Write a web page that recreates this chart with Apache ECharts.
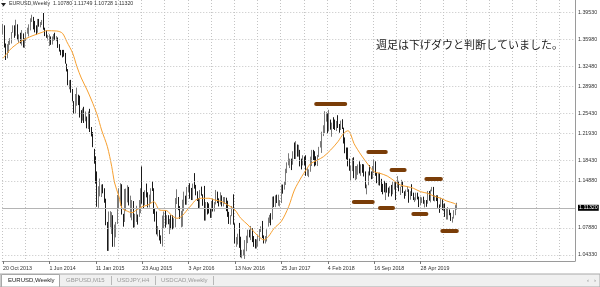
<!DOCTYPE html>
<html><head><meta charset="utf-8">
<script src="https://cdn.jsdelivr.net/npm/echarts@6/dist/echarts.min.js"></script>
<style>html,body{margin:0;padding:0;background:#fff}#c{width:600px;height:287px}</style>
</head><body><div id="c"></div>
<script>
// Weekly EURUSD bars [open, high, low, close], week of 20 Oct 2013 .. 20 Oct 2019
const ohlc2013 = [
[1.3680,1.3832,1.3672,1.3805],[1.3805,1.3810,1.3480,1.3485],[1.3485,1.3540,1.3295,1.3365],[1.3365,1.3530,1.3320,1.3495],
[1.3495,1.3578,1.3400,1.3555],[1.3555,1.3620,1.3520,1.3590],[1.3590,1.3710,1.3540,1.3705],[1.3705,1.3810,1.3700,1.3740],
[1.3740,1.3810,1.3625,1.3675],[1.3675,1.3893,1.3655,1.3815],[1.3815,1.3825,1.3590,1.3590]];
const ohlc2014 = [
[1.3590,1.3675,1.3550,1.3665],[1.3665,1.3700,1.3540,1.3540],[1.3540,1.3740,1.3510,1.3680],[1.3680,1.3690,1.3480,1.3485],
[1.3485,1.3620,1.3475,1.3605],[1.3605,1.3715,1.3575,1.3690],[1.3690,1.3775,1.3685,1.3740],[1.3740,1.3825,1.3645,1.3805],
[1.3805,1.3915,1.3735,1.3910],[1.3910,1.3967,1.3860,1.3915],[1.3915,1.3935,1.3750,1.3790],[1.3790,1.3875,1.3705,1.3750],
[1.3750,1.3810,1.3670,1.3705],[1.3705,1.3905,1.3700,1.3885],[1.3885,1.3905,1.3790,1.3815],[1.3815,1.3860,1.3780,1.3830],
[1.3830,1.3890,1.3815,1.3870],[1.3870,1.3993,1.3745,1.3755],[1.3755,1.3775,1.3650,1.3695],[1.3695,1.3735,1.3625,1.3630],
[1.3630,1.3670,1.3585,1.3635],[1.3635,1.3677,1.3503,1.3640],[1.3640,1.3645,1.3520,1.3545],[1.3545,1.3645,1.3525,1.3600],
[1.3600,1.3680,1.3580,1.3645],[1.3645,1.3700,1.3590,1.3595],[1.3595,1.3650,1.3575,1.3605],[1.3605,1.3630,1.3475,1.3525],
[1.3525,1.3530,1.3420,1.3430],[1.3430,1.3445,1.3365,1.3415],[1.3415,1.3445,1.3333,1.3410],[1.3410,1.3445,1.3345,1.3400],
[1.3400,1.3400,1.3240,1.3240],[1.3240,1.3240,1.3125,1.3130],[1.3130,1.3160,1.2920,1.2950],[1.2950,1.2995,1.2860,1.2965],
[1.2965,1.3000,1.2810,1.2830],[1.2830,1.2865,1.2680,1.2685],[1.2685,1.2685,1.2500,1.2515],[1.2515,1.2790,1.2500,1.2625],
[1.2625,1.2885,1.2615,1.2760],[1.2760,1.2780,1.2625,1.2670],[1.2670,1.2765,1.2440,1.2525],[1.2525,1.2550,1.2360,1.2450],
[1.2450,1.2575,1.2395,1.2525],[1.2525,1.2600,1.2360,1.2390],[1.2390,1.2530,1.2385,1.2450],[1.2450,1.2455,1.2280,1.2290],
[1.2290,1.2530,1.2270,1.2465],[1.2465,1.2570,1.2225,1.2230],[1.2230,1.2300,1.2160,1.2185],[1.2185,1.2225,1.2000,1.2000]];
const ohlc2015 = [
[1.1955,1.1975,1.1755,1.1840],[1.1840,1.1865,1.1460,1.1565],[1.1565,1.1640,1.1115,1.1205],[1.1205,1.1420,1.1100,1.1290],
[1.1290,1.1535,1.1270,1.1315],[1.1315,1.1445,1.1260,1.1390],[1.1390,1.1450,1.1315,1.1380],[1.1380,1.1390,1.1175,1.1195],
[1.1195,1.1235,1.0840,1.0845],[1.0845,1.0890,1.0460,1.0495],[1.0495,1.1045,1.0460,1.0820],[1.0820,1.1050,1.0810,1.0890],
[1.0890,1.1035,1.0710,1.0970],[1.0970,1.0990,1.0520,1.0600],[1.0600,1.0850,1.0520,1.0810],[1.0810,1.0890,1.0660,1.0875],
[1.0875,1.1290,1.0860,1.1200],[1.1200,1.1390,1.1080,1.1200],[1.1200,1.1465,1.1130,1.1445],[1.1445,1.1450,1.1000,1.1010],
[1.1010,1.1010,1.0820,1.0985],[1.0985,1.1380,1.0890,1.1110],[1.1110,1.1385,1.1050,1.1265],[1.1265,1.1435,1.1180,1.1350],
[1.1290,1.1410,1.1135,1.1165],[1.0960,1.1280,1.0955,1.1105],[1.1105,1.1215,1.0915,1.1160],[1.1160,1.1200,1.0805,1.0830],
[1.0830,1.1010,1.0810,1.0980],[1.0980,1.1130,1.0890,1.0985],[1.0985,1.1000,1.0850,1.0970],[1.0970,1.1215,1.0965,1.1105],
[1.1105,1.1390,1.1020,1.1385],[1.1385,1.1715,1.1160,1.1180],[1.1180,1.1335,1.1085,1.1150],[1.1150,1.1360,1.1140,1.1340],
[1.1340,1.1460,1.1255,1.1295],[1.1295,1.1330,1.1105,1.1195],[1.1195,1.1295,1.1105,1.1210],[1.1210,1.1390,1.1165,1.1355],
[1.1355,1.1495,1.1350,1.1350],[1.1350,1.1390,1.1010,1.1015],[1.1015,1.1095,1.0895,1.1005],[1.1005,1.1045,1.0705,1.0740],
[1.0740,1.0830,1.0675,1.0770],[1.0770,1.0770,1.0615,1.0645],[1.0645,1.0690,1.0565,1.0590],[1.0590,1.0985,1.0525,1.0885],
[1.0885,1.1045,1.0795,1.0990],[1.0990,1.1060,1.0805,1.0865],[1.0865,1.0990,1.0850,1.0965],[1.0965,1.0990,1.0855,1.0860]];
const ohlc2016 = [
[1.0860,1.0935,1.0710,1.0920],[1.0920,1.0990,1.0780,1.0915],[1.0915,1.0990,1.0780,1.0795],[1.0795,1.0945,1.0795,1.0830],
[1.0830,1.1245,1.0810,1.1155],[1.1155,1.1375,1.1155,1.1255],[1.1255,1.1260,1.1065,1.1130],[1.1090,1.1125,1.0935,1.0935],
[1.0935,1.1055,1.0810,1.1005],[1.1005,1.1220,1.0820,1.1150],[1.1150,1.1340,1.1050,1.1270],[1.1270,1.1280,1.1145,1.1165],
[1.1165,1.1410,1.1145,1.1390],[1.1390,1.1440,1.1335,1.1400],[1.1400,1.1465,1.1235,1.1285],[1.1285,1.1395,1.1215,1.1225],
[1.1225,1.1460,1.1215,1.1455],[1.1455,1.1615,1.1385,1.1405],[1.1405,1.1440,1.1285,1.1310],[1.1310,1.1345,1.1200,1.1220],
[1.1220,1.1240,1.1095,1.1115],[1.1115,1.1365,1.1100,1.1365],[1.1365,1.1415,1.1280,1.1290],[1.1290,1.1300,1.1130,1.1275],
[1.1275,1.1425,1.0910,1.1115],[1.1055,1.1185,1.0910,1.1135],[1.1135,1.1185,1.1000,1.1050],[1.1050,1.1165,1.1015,1.1040],
[1.1040,1.1085,1.0950,1.0975],[1.0975,1.1200,1.0950,1.1175],[1.1175,1.1235,1.1045,1.1085],[1.1085,1.1185,1.1045,1.1160],
[1.1160,1.1365,1.1150,1.1325],[1.1325,1.1340,1.1170,1.1200],[1.1200,1.1240,1.1120,1.1155],[1.1155,1.1330,1.1150,1.1235],
[1.1235,1.1285,1.1120,1.1155],[1.1155,1.1260,1.1120,1.1225],[1.1225,1.1260,1.1160,1.1240],[1.1240,1.1250,1.1050,1.1200],
[1.1200,1.1205,1.0965,1.0970],[1.0970,1.1040,1.0860,1.0880],[1.0880,1.0990,1.0850,1.0985],[1.0985,1.1125,1.0975,1.1125],
[1.1125,1.1300,1.0850,1.0855],[1.0855,1.0870,1.0570,1.0590],[1.0590,1.0665,1.0520,1.0590],[1.0590,1.0715,1.0555,1.0665],
[1.0665,1.0875,1.0505,1.0560],[1.0560,1.0670,1.0365,1.0450],[1.0450,1.0475,1.0350,1.0455],[1.0455,1.0480,1.0390,1.0520]];
const ohlc2017 = [
[1.0520,1.0620,1.0340,1.0530],[1.0530,1.0685,1.0455,1.0640],[1.0640,1.0775,1.0575,1.0700],[1.0700,1.0775,1.0660,1.0695],
[1.0695,1.0830,1.0620,1.0780],[1.0780,1.0800,1.0590,1.0640],[1.0640,1.0680,1.0520,1.0615],[1.0615,1.0635,1.0495,1.0560],
[1.0560,1.0630,1.0495,1.0620],[1.0620,1.0700,1.0525,1.0670],[1.0670,1.0785,1.0605,1.0740],[1.0740,1.0825,1.0740,1.0800],
[1.0800,1.0905,1.0650,1.0650],[1.0650,1.0690,1.0570,1.0590],[1.0590,1.0680,1.0570,1.0615],[1.0615,1.0780,1.0600,1.0725],
[1.0860,1.0955,1.0820,1.0895],[1.0895,1.0995,1.0875,1.0995],[1.0995,1.1020,1.0840,1.0930],[1.0930,1.1265,1.0925,1.1205],
[1.1205,1.1270,1.1110,1.1165],[1.1165,1.1285,1.1110,1.1280],[1.1280,1.1295,1.1170,1.1195],[1.1195,1.1295,1.1130,1.1195],
[1.1195,1.1215,1.1120,1.1195],[1.1195,1.1445,1.1170,1.1425],[1.1425,1.1445,1.1310,1.1400],[1.1400,1.1490,1.1370,1.1470],
[1.1470,1.1680,1.1440,1.1665],[1.1665,1.1775,1.1615,1.1750],[1.1750,1.1910,1.1730,1.1775],[1.1775,1.1830,1.1690,1.1820],
[1.1820,1.1830,1.1660,1.1760],[1.1760,1.1940,1.1740,1.1925],[1.1925,1.2070,1.1825,1.1860],[1.1860,1.2090,1.1825,1.2035],
[1.2035,1.2040,1.1860,1.1940],[1.1940,1.2035,1.1860,1.1950],[1.1950,1.1960,1.1715,1.1815],[1.1815,1.1830,1.1670,1.1730],
[1.1730,1.1880,1.1730,1.1820],[1.1820,1.1860,1.1730,1.1785],[1.1785,1.1880,1.1575,1.1605],[1.1605,1.1690,1.1575,1.1610],
[1.1610,1.1670,1.1555,1.1665],[1.1665,1.1860,1.1635,1.1790],[1.1790,1.1960,1.1720,1.1935],[1.1935,1.1960,1.1810,1.1895],
[1.1895,1.1940,1.1715,1.1770],[1.1770,1.1865,1.1730,1.1750],[1.1750,1.1885,1.1720,1.1860],[1.1860,1.2005,1.1855,1.2000],
[1.2000,1.2090,1.1995,1.2030]];
const ohlc2018 = [
[1.2030,1.2230,1.1915,1.2200],[1.2200,1.2325,1.2165,1.2220],[1.2220,1.2535,1.2210,1.2425],[1.2425,1.2520,1.2380,1.2460],
[1.2460,1.2505,1.2205,1.2250],[1.2250,1.2555,1.2235,1.2405],[1.2405,1.2410,1.2260,1.2295],[1.2295,1.2365,1.2155,1.2315],
[1.2315,1.2445,1.2270,1.2305],[1.2305,1.2410,1.2255,1.2290],[1.2290,1.2390,1.2240,1.2350],[1.2350,1.2475,1.2285,1.2325],
[1.2325,1.2345,1.2215,1.2280],[1.2280,1.2395,1.2255,1.2330],[1.2330,1.2415,1.2270,1.2290],[1.2290,1.2290,1.2055,1.2130],
[1.2130,1.2145,1.1910,1.1960],[1.1960,1.1995,1.1820,1.1940],[1.1940,1.1995,1.1715,1.1770],[1.1770,1.1830,1.1650,1.1655],
[1.1655,1.1725,1.1510,1.1660],[1.1660,1.1840,1.1645,1.1770],[1.1770,1.1850,1.1540,1.1610],[1.1610,1.1720,1.1510,1.1655],
[1.1655,1.1720,1.1525,1.1685],[1.1685,1.1745,1.1590,1.1745],[1.1745,1.1790,1.1610,1.1685],[1.1685,1.1745,1.1575,1.1720],
[1.1720,1.1750,1.1620,1.1655],[1.1655,1.1745,1.1565,1.1565],[1.1565,1.1640,1.1390,1.1410],[1.1410,1.1445,1.1300,1.1440],
[1.1440,1.1640,1.1435,1.1620],[1.1620,1.1735,1.1580,1.1600],[1.1600,1.1640,1.1525,1.1555],[1.1555,1.1720,1.1530,1.1625],
[1.1625,1.1815,1.1615,1.1745],[1.1745,1.1790,1.1575,1.1605],[1.1605,1.1620,1.1465,1.1525],[1.1525,1.1620,1.1435,1.1560],
[1.1560,1.1620,1.1430,1.1510],[1.1510,1.1530,1.1335,1.1400],[1.1400,1.1455,1.1300,1.1385],[1.1385,1.1500,1.1330,1.1335],
[1.1335,1.1470,1.1215,1.1415],[1.1415,1.1470,1.1325,1.1335],[1.1335,1.1400,1.1265,1.1315],[1.1315,1.1420,1.1315,1.1380],
[1.1380,1.1440,1.1270,1.1305],[1.1305,1.1485,1.1300,1.1370],[1.1370,1.1485,1.1370,1.1440],[1.1440,1.1495,1.1215,1.1395]];
const ohlc2019 = [
[1.1395,1.1570,1.1395,1.1470],[1.1470,1.1500,1.1345,1.1365],[1.1365,1.1415,1.1290,1.1410],[1.1410,1.1515,1.1410,1.1455],
[1.1455,1.1490,1.1320,1.1325],[1.1325,1.1345,1.1235,1.1295],[1.1295,1.1370,1.1275,1.1335],[1.1335,1.1420,1.1335,1.1365],
[1.1365,1.1375,1.1175,1.1235],[1.1235,1.1345,1.1220,1.1325],[1.1325,1.1450,1.1275,1.1300],[1.1300,1.1325,1.1215,1.1215],
[1.1215,1.1255,1.1185,1.1215],[1.1215,1.1325,1.1210,1.1300],[1.1300,1.1325,1.1225,1.1245],[1.1245,1.1265,1.1110,1.1150],
[1.1150,1.1265,1.1135,1.1200],[1.1200,1.1255,1.1170,1.1235],[1.1235,1.1265,1.1160,1.1160],[1.1160,1.1215,1.1105,1.1205],
[1.1205,1.1215,1.1115,1.1170],[1.1170,1.1350,1.1160,1.1335],[1.1335,1.1350,1.1205,1.1210],[1.1210,1.1370,1.1180,1.1370],
[1.1370,1.1410,1.1345,1.1370],[1.1370,1.1410,1.1205,1.1225],[1.1225,1.1285,1.1195,1.1270],[1.1270,1.1285,1.1200,1.1220],
[1.1220,1.1285,1.1100,1.1125],[1.1125,1.1150,1.1025,1.1110],[1.1110,1.1250,1.1110,1.1200],[1.1200,1.1230,1.1065,1.1090],
[1.1090,1.1160,1.1050,1.1145],[1.1145,1.1165,1.0965,1.0990],[1.0990,1.1085,1.0925,1.1030],[1.1030,1.1110,1.0925,1.1075],
[1.1075,1.1075,1.0990,1.1015],[1.1015,1.1025,1.0905,1.0940],[1.0940,1.0965,1.0880,1.0980],[1.0980,1.1065,1.0940,1.1040],
[1.1040,1.1140,1.0990,1.1075],[1.1078,1.11749,1.10728,1.1132]];

// Moving average (orange line): bar index -> value
const maIdx = [0,3,6,13,20,27,30,37,41,44,48,51,54,58,61,65,68,72,75,77,80,82,85,89,92,96,100,104,108,113,116,120,123,127,130,133,137,142,146,151,155,160,164,169,173,176,180,183,187,192,197,201,206,209,212,217,221,226,231,235,238,240,242,247,252,256,260,265,269,274,279,283,288,293,297,302,306,311,313];
const maVal = [1.3320,1.3399,1.3473,1.3582,1.3652,1.3706,1.3730,1.3726,1.3692,1.3567,1.3399,1.3196,1.3028,1.2850,1.2701,1.2478,1.2255,1.2007,1.1711,1.1468,1.1265,1.1097,1.1057,1.1027,1.1067,1.1116,1.1142,1.1191,1.1067,1.1057,1.0993,1.0944,1.0968,1.1067,1.1142,1.1216,1.1241,1.1241,1.1216,1.1191,1.1142,1.1067,1.0944,1.0845,1.0745,1.0681,1.0622,1.0671,1.0795,1.0900,1.1116,1.1364,1.1562,1.1661,1.1751,1.1810,1.1859,1.1959,1.2082,1.2206,1.2245,1.2181,1.2058,1.1884,1.1736,1.1636,1.1612,1.1572,1.1513,1.1439,1.1414,1.1390,1.1339,1.1315,1.1275,1.1241,1.1201,1.1167,1.1142];

// Hand-drawn brown marks: [from bar, to bar, price]
const marksFrom  = [216, 252, 268, 292, 242, 260, 283, 303];
const marksTo    = [236, 264, 277, 302, 255, 269, 292, 313];
const marksPrice = [1.2652, 1.1933, 1.1672, 1.1538, 1.1190, 1.1101, 1.1018, 1.0760];

// Axis tick labels
const xTickLabels = ['20 Oct 2013','1 Jun 2014','11 Jan 2015','23 Aug 2015','3 Apr 2016','13 Nov 2016','25 Jun 2017','4 Feb 2018','16 Sep 2018','28 Apr 2019'];
const yTickValues = [1.39530,1.35980,1.32480,1.28980,1.25430,1.21930,1.18430,1.14880,1.11380,1.07880,1.04330];
const yTickLabels = ['1.39530','1.35980','1.32480','1.28980','1.25430','1.21930','1.18430','1.14880','','1.07880','1.04330'];
const lastPrice = 1.11320;
const titleText = 'EURUSD,Weekly  1.10780 1.11749 1.10728 1.11320';
const noteText = '週足は下げダウと判断していました。';
const tabs = ['EURUSD,Weekly','GBPUSD,M15','USDJPY,H4','USDCAD,Weekly'];

const bars = [].concat(ohlc2013, ohlc2014, ohlc2015, ohlc2016, ohlc2017, ohlc2018, ohlc2019);
const NCAT = 395;
const LABEL_STEP = 32;
const cats = Array.from({length: NCAT}, (_, i) => String(i));
const candleData = bars.map(b => [b[0], b[3], b[2], b[1]]);
const maData = new Array(NCAT).fill(null);
maIdx.forEach((ix, k) => { maData[ix] = maVal[k]; });
const showLabelAt = (i) => i % LABEL_STEP === 0 && (i / LABEL_STEP) < xTickLabels.length;

const FONT = 'Liberation Sans';
const gridColor = '#c4c4c4';

const chart = echarts.init(document.getElementById('c'), null, {renderer: 'canvas'});
chart.setOption({
  animation: false,
  backgroundColor: '#ffffff',
  grid: {left: 0, right: 25, top: 0, bottom: 26, containLabel: false},
  xAxis: {
    type: 'category', data: cats, boundaryGap: true,
    axisLine: {show: true, lineStyle: {color: '#9a9a9a', width: 1}},
    axisTick: {show: true, interval: showLabelAt, alignWithLabel: true, length: 3, lineStyle: {color: '#777'}},
    axisLabel: {interval: showLabelAt, align: 'left', margin: 5, fontSize: 5.3, fontFamily: FONT, color: '#333',
      formatter: (v, i) => xTickLabels[Math.round(i / LABEL_STEP)] || ''},
    splitLine: {show: true, interval: 15, lineStyle: {color: gridColor, type: [1, 2], width: 1}}
  },
  yAxis: {
    type: 'value', position: 'right', min: 1.03097, max: 1.41862, scale: true,
    axisLine: {show: true, lineStyle: {color: '#9a9a9a', width: 1}},
    axisTick: {show: false}, axisLabel: {show: false}, splitLine: {show: false}
  },
  series: [
    {
      type: 'line', data: new Array(NCAT).fill(null), z: 1, silent: true, symbol: 'none',
      markLine: {
        silent: true, symbol: 'none', animation: false,
        lineStyle: {color: gridColor, type: [1, 2], width: 1},
        label: {position: 'end', distance: 3, fontSize: 5.3, fontFamily: FONT, color: '#333'},
        data: yTickValues.map((v, k) => ({yAxis: v, label: {formatter: yTickLabels[k]}}))
          .concat([{yAxis: lastPrice, lineStyle: {color: '#b4b4b4', type: 'solid', width: 1},
            label: {formatter: '1.11320', color: '#fff', backgroundColor: '#000', padding: [1, 1, 0, 1]}}])
      }
    },
    {
      type: 'candlestick', data: candleData, z: 3, barWidth: 0.6,
      itemStyle: {color: '#ffffff', color0: '#000000', borderColor: '#7a7a7a', borderColor0: '#1a1a1a', borderWidth: 1}
    },
    {
      type: 'line', data: maData, z: 4, connectNulls: true, smooth: 0.3, symbol: 'none', silent: true,
      lineStyle: {color: '#f7a030', width: 1}
    },
    {
      type: 'line', data: new Array(NCAT).fill(null), z: 5, silent: true, symbol: 'none',
      markLine: {
        silent: true, symbol: 'none', animation: false,
        lineStyle: {color: '#7a3d08', type: 'solid', width: 4, cap: 'round'},
        label: {show: false},
        data: marksFrom.map((f, k) => [{coord: [f, marksPrice[k]]}, {coord: [marksTo[k], marksPrice[k]]}])
      }
    }
  ],
  graphic: [
    {type: 'polygon', shape: {points: [[1, 3], [6, 3], [3.5, 6.5]]}, style: {fill: '#222'}, z: 10},
    {type: 'text', left: 9, top: 1, z: 10, style: {text: titleText, font: '5.3px "' + FONT + '"', fill: '#333'}},
    {type: 'text', left: 376, top: 39, z: 10, style: {text: noteText, font: '11px "Noto Sans CJK JP"', fill: '#222'}},
    {type: 'rect', shape: {x: 0, y: 274, width: 600, height: 13}, style: {fill: '#f0f0f0', stroke: '#a8a8a8', lineWidth: 1}, z: 10},
    {type: 'rect', shape: {x: 1.5, y: 274.5, width: 58, height: 12.5}, style: {fill: '#ffffff', stroke: '#a8a8a8', lineWidth: 1}, z: 11},
    {type: 'text', x: 8, y: 277.5, z: 12, style: {text: tabs[0], font: '6px "' + FONT + '"', fill: '#222'}},
    {type: 'text', x: 66, y: 277.5, z: 12, style: {text: tabs[1], font: '6px "' + FONT + '"', fill: '#9a9a9a'}},
    {type: 'line', shape: {x1: 111.5, y1: 276, x2: 111.5, y2: 285}, style: {stroke: '#b8b8b8'}, z: 12},
    {type: 'text', x: 117, y: 277.5, z: 12, style: {text: tabs[2], font: '6px "' + FONT + '"', fill: '#9a9a9a'}},
    {type: 'line', shape: {x1: 155.5, y1: 276, x2: 155.5, y2: 285}, style: {stroke: '#b8b8b8'}, z: 12},
    {type: 'text', x: 161, y: 277.5, z: 12, style: {text: tabs[3], font: '6px "' + FONT + '"', fill: '#9a9a9a'}},
    {type: 'line', shape: {x1: 213.5, y1: 276, x2: 213.5, y2: 285}, style: {stroke: '#b8b8b8'}, z: 12},
    {type: 'text', x: 587, y: 277, z: 12, style: {text: '‹   ›', font: '6px "' + FONT + '"', fill: '#888'}}
  ]
});
</script></body></html>
